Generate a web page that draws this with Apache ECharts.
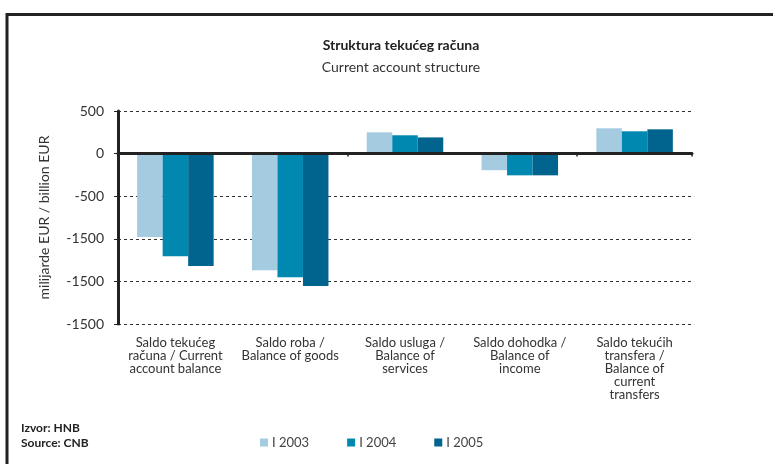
<!DOCTYPE html>
<html><head><meta charset="utf-8">
<script src="https://cdn.jsdelivr.net/npm/echarts@6/dist/echarts.min.js"></script>
<style>html,body{margin:0;padding:0;background:#fff}#c{width:773px;height:464px}</style>
</head><body><div id="c"></div>
<script>
const categories = ['Saldo tekućeg\nračuna / Current\naccount balance','Saldo roba /\nBalance of goods','Saldo usluga /\nBalance of\nservices','Saldo dohodka /\nBalance of\nincome','Saldo tekućih\ntransfera /\nBalance of\ncurrent\ntransfers'];
const seriesNames = ['I 2003','I 2004','I 2005'];
const s2003 = [-980, -1370, 250, -195, 297];
const s2004 = [-1205, -1450, 215, -255, 262];
const s2005 = [-1320, -1555, 190, -255, 285];
const yTickValues = [500, 0, -500, -1000, -1500, -2000];
const yTickLabels = ['500', '0', '-500', '-1500', '-1500', '-1500'];
const colors = ['#a4cbe0', '#0088b1', '#00648e'];
const FONT = 'Lato';
const chart = echarts.init(document.getElementById('c'));
const data = [s2003, s2004, s2005];
chart.setOption({
  animation: false,
  textStyle: {fontFamily: FONT},
  title: [
    {text: 'Struktura tekućeg računa', left: 396, top: 33, textAlign: 'center',
     textStyle: {fontFamily: FONT, fontSize: 14, fontWeight: 'bold', color: '#222'}},
    {text: 'Current account structure', left: 396, top: 55, textAlign: 'center',
     textStyle: {fontFamily: FONT, fontSize: 14, fontWeight: 'normal', color: '#333'}}
  ],
  legend: {
    data: seriesNames, left: 255, top: 431, itemWidth: 8, itemHeight: 8, itemGap: 38,
    icon: 'rect', textStyle: {fontFamily: FONT, fontSize: 13, color: '#444', padding: [0,0,0,-1]}
  },
  grid: {left: 118, right: 81, top: 111, bottom: 140},
  xAxis: [
    {type: 'category', data: categories,
     axisLine: {onZero: true, lineStyle: {color: '#222', width: 3}},
     axisTick: {show: true, length: 3, lineStyle: {color: '#222', width: 1.5}},
     axisLabel: {show: false}, splitLine: {show: false}, z: 5},
    {type: 'category', data: categories, position: 'bottom',
     axisLine: {show: false, onZero: false}, axisTick: {show: false},
     axisLabel: {show: true, interval: 0, margin: 12, fontFamily: FONT, fontSize: 13, lineHeight: 13, color: '#333'}}
  ],
  yAxis: {
    type: 'value', min: -2000, max: 500, interval: 500,
    name: 'milijarde EUR / billion EUR', nameLocation: 'middle', nameGap: 67, nameRotate: 90,
    nameTextStyle: {fontFamily: FONT, fontSize: 14, color: '#333'},
    axisLine: {show: true, lineStyle: {color: '#222', width: 3}},
    axisTick: {show: true, length: 4, lineStyle: {color: '#222', width: 1}},
    axisLabel: {fontFamily: FONT, fontSize: 14, color: '#333', margin: 14,
      formatter: v => { const i = yTickValues.indexOf(v); return i >= 0 ? yTickLabels[i] : ''; }},
    splitLine: {show: true, lineStyle: {color: '#333', width: 1, type: [3, 3]}}
  },
  series: seriesNames.map((n, i) => ({
    name: n, type: 'bar', xAxisIndex: 0, data: data[i], barWidth: 25.5, barGap: '0%',
    itemStyle: {color: colors[i]}, z: 3
  })),
  graphic: [
    {type: 'polyline', shape: {points: [[7, 464], [7, 14.5], [773, 14.5]]},
     style: {stroke: '#222', lineWidth: 3, fill: null}},
    {type: 'text', left: 21, top: 422, style: {text: 'Izvor: HNB', fontFamily: FONT, fontSize: 12, fontWeight: 'bold', fill: '#222'}},
    {type: 'text', left: 21, top: 437, style: {text: 'Source: CNB', fontFamily: FONT, fontSize: 12, fontWeight: 'bold', fill: '#222'}}
  ]
});
</script></body></html>
